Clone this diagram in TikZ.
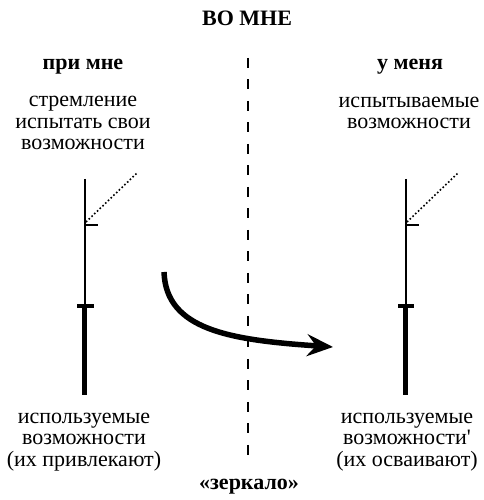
\documentclass[tikz,border=0pt]{standalone}
\usepackage{fontspec}
\setmainfont{Liberation Serif}
\usetikzlibrary{arrows.meta}
\tikzset{
  body/.style={align=center, font=\fontsize{22}{21.5}\selectfont, inner sep=0pt},
  head/.style={font=\fontsize{22}{22}\selectfont\bfseries, inner sep=0pt},
  thinline/.style={line width=2pt},
  thickline/.style={line width=5pt},
  tickthick/.style={line width=4.5pt},
  dotline/.style={line width=1.6pt, dash pattern=on 1.6pt off 2.2pt},
  mirror/.style={line width=2.5pt, dash pattern=on 10pt off 11.5pt},
  bigarrow/.style={line width=5.5pt, -{Stealth[length=26pt, width=22pt, inset=9pt]}}
}
\begin{document}
\begin{tikzpicture}[x=1pt,y=1pt]
\useasboundingbox (0,0) rectangle (483,500);
% headings
\node[head] (title) at (247,482) {ВО МНЕ};
\node[head] (lh) at (83,433) {при мне};
\node[head] (rh) at (410,433) {у меня};
\node[head] (mir) at (249,13) {«зеркало»};
% texts
\node[body] (lt) at (83,377) {стремление\\испытать свои\\возможности};
\node[body] (rt) at (409,387) {испытываемые\\возможности};
\node[body] (lb) at (84,58) {используемые\\возможности\\(их привлекают)};
\node[body] (rb) at (407,58) {используемые\\возможности\textquotesingle\\(их осваивают)};
% mirror line
\coordinate (mtop) at (248,442);
\coordinate (mbot) at (248,45);
\draw[mirror] (mtop) -- (mbot);
% left stick
\coordinate (ltop) at (84.5,321);
\coordinate (lmid) at (84.5,194);
\coordinate (lbot) at (84.5,105);
\coordinate (ltk) at (84.5,275);
\coordinate (ltke) at (98,275);
\coordinate (ldot1) at (86,278);
\coordinate (ldot2) at (137,327);
\draw[thinline] (ltop) -- (lmid);
\draw[thickline] (lmid) -- (lbot);
\draw[tickthick] (77,194) -- (94,194);
\draw[thinline] (ltk) -- (ltke);
\draw[dotline] (ldot1) -- (ldot2);
% right stick
\coordinate (rtop) at (405.5,321);
\coordinate (rmid) at (405.5,194);
\coordinate (rbot) at (405.5,105);
\coordinate (rtk) at (405.5,275);
\coordinate (rtke) at (419,275);
\coordinate (rdot1) at (407,278);
\coordinate (rdot2) at (458,327);
\draw[thinline] (rtop) -- (rmid);
\draw[thickline] (rmid) -- (rbot);
\draw[tickthick] (398,194) -- (414,194);
\draw[thinline] (rtk) -- (rtke);
\draw[dotline] (rdot1) -- (rdot2);
% arrow
\coordinate (as) at (164,228);
\coordinate (ae) at (333,153);
\draw[bigarrow] (as) .. controls (166,170) and (230,160) .. (ae);
\end{tikzpicture}
\end{document}
